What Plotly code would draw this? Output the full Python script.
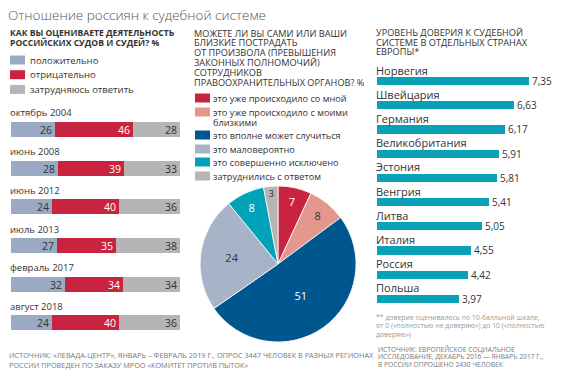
import plotly.graph_objects as go

W, H = 566, 380
FONT = "Open Sans"

# ---------------- data ----------------
title_text = "Отношение россиян к судебной системе"

left_header = ["КАК ВЫ ОЦЕНИВАЕТЕ ДЕЯТЕЛЬНОСТЬ", "РОССИЙСКИХ СУДОВ И СУДЕЙ? %"]
left_legend = ["положительно", "отрицательно", "затрудняюсь ответить"]
periods = ["октябрь 2004", "июнь 2008", "июнь 2012", "июль 2013", "февраль 2017", "август 2018"]
positive = [26, 28, 24, 27, 32, 24]
negative = [46, 39, 40, 35, 34, 40]
unsure = [28, 33, 36, 38, 34, 36]

mid_header = ["МОЖЕТЕ ЛИ ВЫ САМИ ИЛИ ВАШИ", "БЛИЗКИЕ ПОСТРАДАТЬ", "ОТ ПРОИЗВОЛА (ПРЕВЫШЕНИЯ",
              "ЗАКОННЫХ ПОЛНОМОЧИЙ)", "СОТРУДНИКОВ", "ПРАВООХРАНИТЕЛЬНЫХ ОРГАНОВ? %"]
pie_labels = ["это уже происходило со мной", "это уже происходило с моими близкими",
              "это вполне может случиться", "это маловероятно",
              "это совершенно исключено", "затруднились с ответом"]
pie_values = [7, 8, 51, 24, 8, 3]

right_header = ["УРОВЕНЬ ДОВЕРИЯ К СУДЕБНОЙ", "СИСТЕМЕ В ОТДЕЛЬНЫХ СТРАНАХ", "ЕВРОПЫ*"]
countries = ["Норвегия", "Швейцария", "Германия", "Великобритания", "Эстония",
             "Венгрия", "Литва", "Италия", "Россия", "Польша"]
trust = [7.35, 6.63, 6.17, 5.91, 5.81, 5.41, 5.05, 4.55, 4.42, 3.97]

footnote = ["** доверие оценивалось по 10-балльной шкале,",
            "от 0 («полностью не доверяю») до 10 («полностью",
            "доверяю»)"]
source_left = ["ИСТОЧНИК: «ЛЕВАДА-ЦЕНТР», ЯНВАРЬ – ФЕВРАЛЬ 2019 Г., ОПРОС 3447 ЧЕЛОВЕК В РАЗНЫХ РЕГИОНАХ",
               "РОССИИ ПРОВЕДЕН ПО ЗАКАЗУ МРОО «КОМИТЕТ ПРОТИВ ПЫТОК»"]
source_right = ["ИСТОЧНИК: ЕВРОПЕЙСКОЕ СОЦИАЛЬНОЕ",
                "ИССЛЕДОВАНИЕ, ДЕКАБРЬ 2016 — ЯНВАРЬ 2017 Г.,",
                "В РОССИИ ОПРОШЕНО 2430 ЧЕЛОВЕК"]

# ---------------- styles ----------------
C_POS = "#9aaac2"
C_NEG = "#c9243f"
C_UNS = "#b5b5b5"
PIE_COLORS = ["#c9243f", "#e4978c", "#00568f", "#a7b3c6", "#00a3b8", "#b5b5b5"]
PIE_TEXT = ["white", "#333333", "white", "#333333", "white", "#333333"]
C_TEAL = "#0aa0b5"
DARK = "#333333"


def px(x):
    return x / W


def py(y):
    return 1 - y / H


fig = go.Figure()

# left stacked bars
idx = list(range(len(periods)))
for vals, col, name, tcol in [(positive, C_POS, left_legend[0], DARK),
                              (negative, C_NEG, left_legend[1], "white"),
                              (unsure, C_UNS, left_legend[2], DARK)]:
    fig.add_trace(go.Bar(
        x=vals, y=idx, orientation="h", marker=dict(color=col, line=dict(width=0)),
        width=0.39, name=name, text=[str(v) for v in vals],
        textposition="inside", insidetextanchor="end", constraintext="none", textangle=0,
        textfont=dict(family=FONT, size=10.5, color=tcol),
        xaxis="x", yaxis="y", showlegend=False, hoverinfo="skip"))

# pie
fig.add_trace(go.Pie(
    values=pie_values, labels=pie_labels, sort=False, direction="clockwise", rotation=0,
    marker=dict(colors=PIE_COLORS, line=dict(color="white", width=0.8)),
    text=[str(v) for v in pie_values], textinfo="text", textposition="inside",
    insidetextorientation="horizontal",
    textfont=dict(family=FONT, size=11, color=PIE_TEXT),
    domain=dict(x=[px(200), px(356)], y=[py(342), py(186)]),
    showlegend=False, hoverinfo="skip"))

# right bars
fig.add_trace(go.Bar(
    x=trust, y=list(range(len(countries))), orientation="h",
    marker=dict(color=C_TEAL, line=dict(width=0)),
    width=0.34, text=[f"{v:.2f}".replace(".", ",") for v in trust],
    textposition="outside", cliponaxis=False, constraintext="none", textangle=0,
    textfont=dict(family=FONT, size=10, color=DARK),
    xaxis="x2", yaxis="y2", showlegend=False, hoverinfo="skip"))

ax_common = dict(showgrid=False, zeroline=False, showticklabels=False, showline=False, ticks="")
left_step = 38.7
right_step = 24.2
fig.update_layout(
    width=W, height=H, margin=dict(l=0, r=0, t=0, b=0),
    paper_bgcolor="white", plot_bgcolor="rgba(0,0,0,0)",
    barmode="stack", bargap=0,
    font=dict(family=FONT, color=DARK),
    xaxis=dict(domain=[px(11), px(180)], range=[0, 100], **ax_common),
    yaxis=dict(domain=[py(129.5 + 5.5 * left_step), py(129.5 - 0.5 * left_step)],
               range=[5.5, -0.5], **ax_common),
    xaxis2=dict(domain=[px(377), 1], range=[0, (566 - 377) / 20.7], anchor="y2", **ax_common),
    yaxis2=dict(domain=[py(81 + 9.5 * right_step), py(81 - 0.5 * right_step)],
                range=[9.5, -0.5], anchor="x2", **ax_common),
)

ann = []
shapes = []


def text(x, y, s, size, color=DARK, weight="normal", anchor="left"):
    ann.append(dict(x=px(x), y=py(y), xref="paper", yref="paper", text=s, showarrow=False,
                    xanchor=anchor, yanchor="middle", borderpad=0,
                    font=dict(family=FONT, size=size, color=color, weight=weight)))


# title
text(7, 15, title_text, 13.5, color="#555555", weight=300)

# left header + legend
for i, s in enumerate(left_header):
    text(9, 33 + 10 * i, s, 8.6, weight="bold")
for i, (s, c) in enumerate(zip(left_legend, [C_POS, C_NEG, C_UNS])):
    yc = 60 + 14.7 * i
    shapes.append(dict(type="rect", xref="paper", yref="paper", x0=px(10), x1=px(25),
                       y0=py(yc + 4.5), y1=py(yc - 4.5), fillcolor=c, line=dict(width=0)))
    text(29, yc, s, 9.5)
for i, s in enumerate(periods):
    text(9, 129.5 + left_step * i - 16.5, s, 9.5)

# middle header + legend
for i, s in enumerate(mid_header):
    text(193, 33 + 9.8 * i, s, 9.2)
leg_mid = [(98, pie_labels[0]), (112, "это уже происходило с моими"), (135, pie_labels[2]),
           (149, pie_labels[3]), (162, pie_labels[4]), (176, pie_labels[5])]
for i, (yc, s) in enumerate(leg_mid):
    shapes.append(dict(type="rect", xref="paper", yref="paper", x0=px(195), x1=px(210),
                       y0=py(yc + 4.5), y1=py(yc - 4.5), fillcolor=PIE_COLORS[i], line=dict(width=0)))
    text(212, yc, s, 9.2)
text(212, 122, "близкими", 9.2)

# right header + labels
for i, s in enumerate(right_header):
    text(375, 32 + 10 * i, s, 9.2)
for i, s in enumerate(countries):
    text(375, 81 + right_step * i - 11, s, 11)
for i, s in enumerate(footnote):
    text(375, 317 + 8.5 * i, s, 6.9, color="#999999")

# sources
for i, s in enumerate(source_left):
    text(8, 355 + 10 * i, s, 7.3, color="#777777")
for i, s in enumerate(source_right):
    text(377, 349 + 7.6 * i, s, 6.7, color="#777777")

fig.update_layout(annotations=ann, shapes=shapes)
fig.write_html("out.html", config={"displayModeBar": False},
               post_script="document.body.style.margin='0px';")
